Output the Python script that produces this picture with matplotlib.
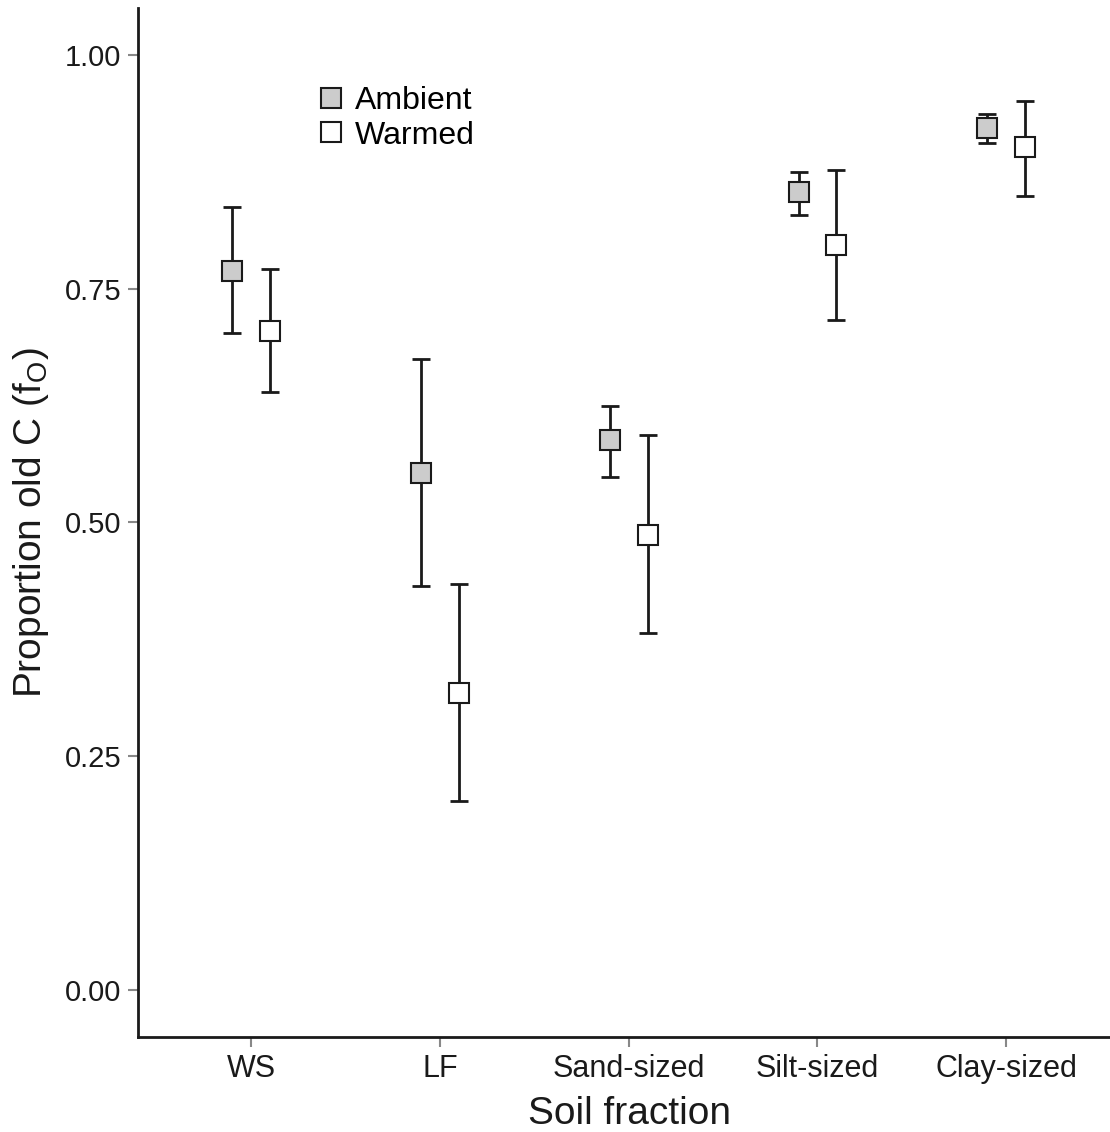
import numpy as np
import matplotlib
matplotlib.use('Agg')
import matplotlib.pyplot as plt

plt.rcParams['font.family'] = ['Liberation Sans', 'DejaVu Sans']
plt.rcParams['mathtext.fontset'] = 'custom'
plt.rcParams['mathtext.rm'] = 'Liberation Sans'

fractions = ['WS', 'LF', 'Sand-sized', 'Silt-sized', 'Clay-sized']
ambient_mean = [0.769, 0.553, 0.588, 0.853, 0.922]
ambient_low = [0.702, 0.432, 0.549, 0.829, 0.906]
ambient_high = [0.837, 0.675, 0.625, 0.875, 0.937]
warmed_mean = [0.705, 0.318, 0.487, 0.797, 0.901]
warmed_low = [0.639, 0.202, 0.382, 0.716, 0.849]
warmed_high = [0.771, 0.434, 0.593, 0.877, 0.950]


def plot_group(ax, x, mean, low, high, face, label):
    mean = np.array(mean)
    yerr = [mean - np.array(low), np.array(high) - mean]
    ax.errorbar(x, mean, yerr=yerr, fmt='none', ecolor='#1a1a1a',
                elinewidth=2, capsize=6.5, capthick=2, zorder=2)
    ax.plot(x, mean, 's', markersize=13.7, markerfacecolor=face,
            markeredgecolor='#1a1a1a', markeredgewidth=1.5,
            linestyle='none', label=label, zorder=3)


fig = plt.figure(figsize=(11.1, 11.32), dpi=100)
ax = fig.add_axes([0.1243, 0.0839, 0.8757, 0.9091])

xpos = np.arange(len(fractions))
plot_group(ax, xpos - 0.1, ambient_mean, ambient_low, ambient_high, '#cccccc', 'Ambient')
plot_group(ax, xpos + 0.1, warmed_mean, warmed_low, warmed_high, 'white', 'Warmed')

ax.set_xlim(-0.6, 4.55)
ax.set_ylim(-0.05, 1.05)
ax.set_xticks(xpos)
ax.set_xticklabels(fractions)
ax.set_yticks([0, 0.25, 0.5, 0.75, 1.0])
ax.set_yticklabels(['0.00', '0.25', '0.50', '0.75', '1.00'])
ax.tick_params(axis='both', length=7, width=1.5,
               color='#888888', labelcolor='#1a1a1a', pad=5)
ax.tick_params(axis='x', labelsize=22)
ax.tick_params(axis='y', labelsize=21)

for side in ['top', 'right']:
    ax.spines[side].set_visible(False)
for side in ['left', 'bottom']:
    ax.spines[side].set_linewidth(2)
    ax.spines[side].set_color('#1a1a1a')

ax.set_xlabel('Soil fraction', fontsize=28, color='#1a1a1a')
ax.xaxis.set_label_coords(0.506, -0.057)
ax.set_ylabel(r'Proportion old C (f$_\mathregular{O}$)', fontsize=28,
              color='#1a1a1a', labelpad=10)

ax.legend(loc='upper left', bbox_to_anchor=(0.162, 0.946), frameon=False,
          fontsize=23, handlelength=0.8, handletextpad=0.35,
          labelspacing=0.15, markerscale=1.05, borderaxespad=0.3)

plt.savefig('out.png', dpi=100)
